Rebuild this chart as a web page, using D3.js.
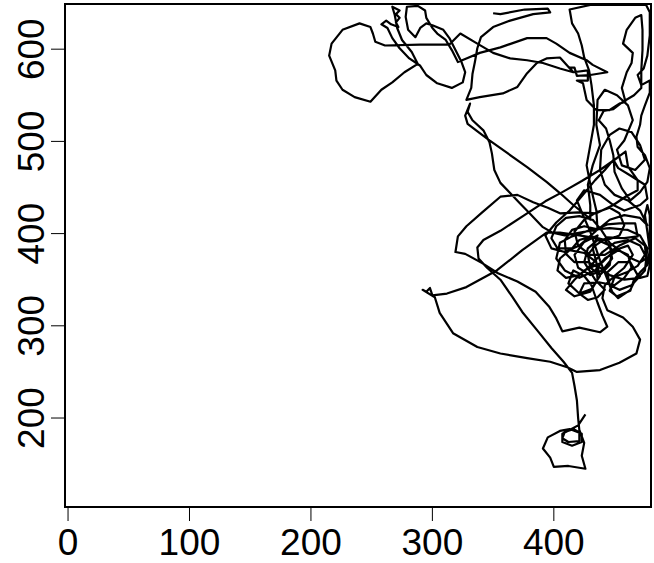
<!DOCTYPE html>
<html>
<head>
<meta charset="utf-8">
<script src="https://cdn.jsdelivr.net/npm/d3@7"></script>
<style>
  body { margin: 0; background: #fff; }
  svg { display: block; }
  .tick-label { font-family: "Liberation Sans", Arial, sans-serif; font-size: 37px; fill: #000; }
</style>
</head>
<body>
<script>
// track segments, in data units (x, y), in drawing order
const startX = [426,420,413,407,407,415,423,423,416,409,407,412,421,421,413,405,395,391,397,400,412,426,423,425,421,420,419,417,415,408,398,387,374,366,356,345,338,337,342,356,378,393,407,423,438,452,459,461,469,469,459,449,435,420,405,395,383,370,356,341,328,321,319,327,341,354,370,385,396,402,407,421,438,444,440,436,431,425];
const startY = [204,192,187,183,174,170,174,183,188,185,178,174,175,184,188,186,179,167,157,147,148,145,159,173,187,200,219,235,249,261,276,294,315,331,350,363,373,385,393,403,422,435,445,457,469,482,489,473,458,447,440,431,422,423,422,428,434,442,440,423,408,397,380,378,368,357,348,337,321,308,294,298,293,299,311,325,344,354];

const clusterX = [416,412,421,431,438,435,425,413,405,403,410,421,431,440,450,461,471,475,469,460,450,446,452,463,466,471,477,479,477,475,477,479,479,479,477,471,458,446,438,428,417,410,409,415,425,435,444,454,467,469,458,444,434,428,430,438,446,448,442,431,421,415,403,398,402,410,421,432,439,446,456,464,471,476,475,467,454,442,430,420,417,425,435,446,454,458,454,444];
const clusterY = [360,346,335,340,354,369,379,382,373,360,352,355,366,380,390,393,387,377,365,358,353,338,332,338,350,358,366,382,402,420,431,420,393,366,354,352,350,355,363,369,369,378,393,404,408,405,410,411,411,397,395,396,387,377,363,355,366,382,393,397,393,384,384,395,408,417,419,415,404,390,380,373,369,373,387,395,387,377,377,387,402,415,423,428,422,409,398,393];

const southX = [421,405,394,374,353,328,312,300,298,295,292,302,306,317,337,356,378,397,411,419,438,454,468,471,465,457,449,444,440,442,449];
const southY = [398,401,401,382,360,342,335,333,341,337,339,331,314,292,277,270,265,261,255,250,252,260,270,285,299,309,314,317,330,344,353];

const cluster2X = [458,465,461,450,440,425,417,410,417,430,436,435,432,436];
const cluster2Y = [363,377,387,382,369,360,350,339,332,337,350,369,384,398];

const cluster3X = [436,425,417,420,430,440,448,446,436,428,425,434,442,436,428,421,425,438,450,458,464,461,453,442,434,421,409,402,405,415,430,446,461,471,477,475,464,454,446,444,453,463,469,463,453,448];
const cluster3Y = [398,391,377,363,355,360,373,387,393,384,369,350,339,331,328,335,346,347,344,352,363,377,382,373,360,352,360,373,390,397,404,406,404,398,384,360,344,339,344,358,369,369,355,339,330,337];

const upperX = [438,430,424,419,425,438,449,458,471,477,475,463,453,449,442,434,424,413,402,393,398,409,421,434,446,458,471,477];
const upperY = [371,402,420,436,447,442,431,425,431,438,453,463,471,480,469,458,442,425,412,398,384,380,387,402,415,420,417,409];

const eastX = [471,461,450,442,438,439,446,454,464,471,475,467,456,452,458,465,461,452,442,436,435,438,432,428,430,430];
const eastY = [425,436,442,453,469,491,507,514,510,496,480,469,474,491,501,523,539,550,556,545,518,496,474,453,431,415];

const diagX = [431,416,405,394,378,361,347,339,329,327,331,329,333,342,347,349,351,356,364,372,380,391,399,409,425,436];
const diagY = [415,431,444,456,472,488,501,509,519,528,541,532,523,512,499,487,469,455,444,433,422,407,401,398,402,404];

const northX = [435,431,427,430,433,433,431,429,425,423,420,415,413,430,454,476,479,479,477,474,469,472,479,479,475,472,471,468,469,475,479,477,471,463,456,450,449,446,443,437,441,449,457,466,472,472,473,473,472,467,460,457,465,464,460,456,459,454,446,435,427,424,419,428,428,416,413,417,419];
const northY = [425,447,474,496,518,539,561,577,591,604,617,628,643,648,648,648,640,615,593,579,572,561,566,553,539,528,518,505,494,485,471,456,445,436,449,467,485,501,514,523,533,535,543,550,558,577,599,621,637,634,621,606,596,585,575,558,543,541,534,534,545,563,566,566,577,575,580,580,571];

const westX = [430,444,432,427,413,402,394,378,356,339,328,321,316,311,304,300,295,294,288,279,278,280,286,290,295,300,309,314,319,324,327,325,316,304,295,290,281,273,267,263,258,262,266,272,270,273,270,273,267,269,271,275,283,288,277,267,258,249,236,226,221,220,215,217,226,240,249,251,253,261,290,314,323,337,350,364,378,391,405,416,405,394,386,378,370,358,339,328,332,333,335,337,340,350,364,383,397,395,376,356,350];
const westY = [572,575,583,588,596,606,612,612,602,596,590,586,599,610,617,623,634,642,647,646,635,621,613,623,628,626,621,612,599,586,575,564,558,563,572,582,590,601,612,623,627,631,627,624,629,634,638,642,646,637,623,610,597,584,575,564,556,543,548,556,566,577,593,606,621,628,624,617,608,604,605,605,617,606,596,590,588,585,579,575,591,590,585,574,559,552,548,545,558,573,586,601,613,624,631,638,640,644,643,638,639];

const xTicks = [0, 100, 200, 300, 400];
const yTicks = [200, 300, 400, 500, 600];

const WIDTH = 654;
const HEIGHT = 563;
const PLOT = { left: 65, right: 651, top: 4, bottom: 507 };
const TICK_LEN = 14;

const xs = [].concat(startX, clusterX, southX, cluster2X, cluster3X, upperX, eastX, diagX, northX, westX);
const ys = [].concat(startY, clusterY, southY, cluster2Y, cluster3Y, upperY, eastY, diagY, northY, westY);
const points = xs.map((x, i) => [x, ys[i]]);

const x = d3.scaleLinear().domain([-2.5, 480]).range([PLOT.left, PLOT.right]);
const y = d3.scaleLinear().domain([103.5, 649]).range([PLOT.bottom, PLOT.top]);

const svg = d3.select("body").append("svg")
  .attr("width", WIDTH)
  .attr("height", HEIGHT);

svg.append("clipPath").attr("id", "plot-clip")
  .append("rect")
  .attr("x", PLOT.left).attr("y", PLOT.top)
  .attr("width", PLOT.right - PLOT.left)
  .attr("height", PLOT.bottom - PLOT.top);

svg.append("path")
  .datum(points)
  .attr("clip-path", "url(#plot-clip)")
  .attr("fill", "none")
  .attr("stroke", "#000")
  .attr("stroke-width", 2.2)
  .attr("stroke-linejoin", "round")
  .attr("d", d3.line().x(d => x(d[0])).y(d => y(d[1])));

// box
svg.append("rect")
  .attr("x", PLOT.left).attr("y", PLOT.top)
  .attr("width", PLOT.right - PLOT.left)
  .attr("height", PLOT.bottom - PLOT.top)
  .attr("fill", "none")
  .attr("stroke", "#000")
  .attr("stroke-width", 2);

// x axis ticks + labels
const xAxis = svg.append("g");
xAxis.selectAll("line").data(xTicks).enter().append("line")
  .attr("x1", d => x(d)).attr("x2", d => x(d))
  .attr("y1", PLOT.bottom).attr("y2", PLOT.bottom + TICK_LEN)
  .attr("stroke", "#000").attr("stroke-width", 1);
xAxis.selectAll("text").data(xTicks).enter().append("text")
  .attr("class", "tick-label")
  .attr("x", d => x(d))
  .attr("y", 555)
  .attr("text-anchor", "middle")
  .text(d => d);

// y axis ticks + labels (rotated, R style)
const yAxis = svg.append("g");
yAxis.selectAll("line").data(yTicks).enter().append("line")
  .attr("x1", PLOT.left - TICK_LEN).attr("x2", PLOT.left)
  .attr("y1", d => y(d)).attr("y2", d => y(d))
  .attr("stroke", "#000").attr("stroke-width", 1);
yAxis.selectAll("text").data(yTicks).enter().append("text")
  .attr("class", "tick-label")
  .attr("text-anchor", "middle")
  .attr("transform", d => `translate(44,${y(d)}) rotate(-90)`)
  .text(d => d);
</script>
</body>
</html>
